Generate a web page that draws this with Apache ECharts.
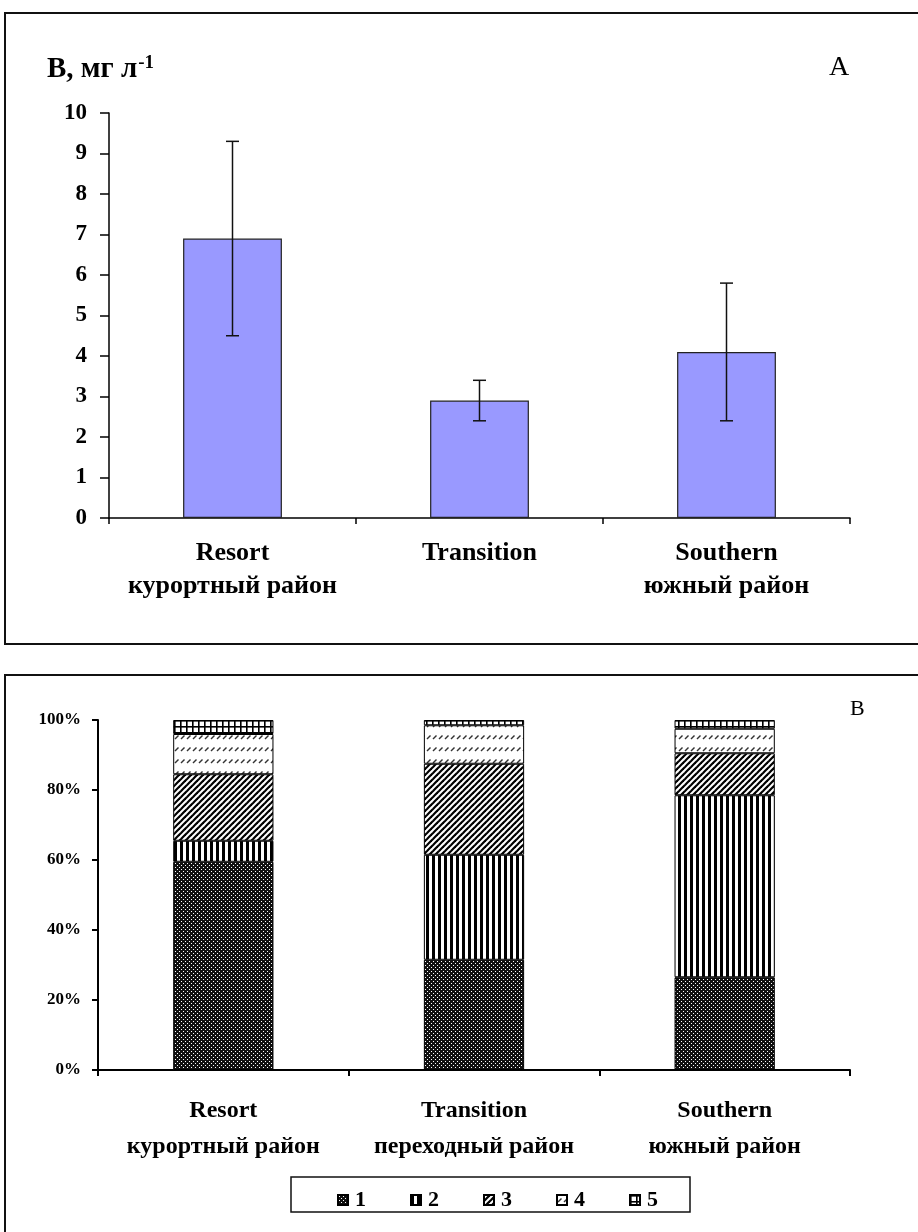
<!DOCTYPE html>
<html>
<head>
<meta charset="utf-8">
<script src="https://cdn.jsdelivr.net/npm/echarts@6/dist/echarts.min.js"></script>
<style>
  html, body { margin: 0; padding: 0; background: #fff; }
  #chart { width: 918px; height: 1232px; }
</style>
</head>
<body>
<div id="chart"></div>
<script>
// Panel A: boron concentration by region (mean ± error)
const topCategories = ['Resort\nкурортный район', 'Transition', 'Southern\nюжный район'];
const boronMean = [6.9, 2.9, 4.1];
const boronErr = [2.4, 0.5, 1.7];
const topTicks = [0, 1, 2, 3, 4, 5, 6, 7, 8, 9, 10];

// Panel B: relative share of groups 1–5 by region, %
const bottomCategories = ['Resort\nкурортный район', 'Transition\nпереходный район', 'Southern\nюжный район'];
const groupNames = ['1', '2', '3', '4', '5'];
const group1 = [59.5, 31.5, 26.5];
const group2 = [6, 30, 52];
const group3 = [19, 26, 12];
const group4 = [11.5, 11, 7];
const group5 = [4, 1.5, 2.5];
const groups = [group1, group2, group3, group4, group5];

const SERIF = '"Liberation Serif", "Times New Roman", serif';

// Hatch fills drawn into small repeating tiles
function tile(w, h, draw) {
  const c = document.createElement('canvas');
  c.width = w; c.height = h;
  const ctx = c.getContext('2d');
  ctx.fillStyle = '#fff';
  ctx.fillRect(0, 0, w, h);
  draw(ctx);
  return { image: c, repeat: 'repeat' };
}
const fills = [
  // 1: dark mesh with white dots
  tile(4, 4, ctx => {
    ctx.fillStyle = '#111';
    ctx.fillRect(0, 0, 4, 4);
    ctx.fillStyle = '#fff';
    ctx.fillRect(1, 1, 1, 1);
    ctx.fillRect(3, 3, 1, 1);
  }),
  // 2: vertical stripes
  tile(6, 2, ctx => {
    ctx.fillStyle = '#000';
    ctx.fillRect(0, 0, 3, 2);
  }),
  // 3: dense forward diagonals
  tile(6, 6, ctx => {
    ctx.strokeStyle = '#000';
    ctx.lineWidth = 2.2;
    for (let k = -1; k <= 1; k++) {
      ctx.beginPath();
      ctx.moveTo(-1 + k * 6, 7);
      ctx.lineTo(7 + k * 6, -1);
      ctx.stroke();
    }
  }),
  // 4: light dashed diagonals
  tile(6, 12, ctx => {
    ctx.strokeStyle = '#333';
    ctx.lineWidth = 1.5;
    ctx.beginPath();
    ctx.moveTo(1, 7);
    ctx.lineTo(4.5, 3.5);
    ctx.stroke();
  }),
  // 5: square grid
  tile(6, 6, ctx => {
    ctx.fillStyle = '#000';
    ctx.fillRect(0, 0, 6, 1.6);
    ctx.fillRect(0, 0, 1.6, 6);
  })
];

const chart = echarts.init(document.getElementById('chart'), null, { renderer: 'canvas' });

const stackSeries = groups.map((vals, i) => ({
  name: groupNames[i],
  type: 'bar',
  xAxisIndex: 1,
  yAxisIndex: 1,
  stack: 'share',
  barWidth: '40%',
  data: vals,
  itemStyle: { color: fills[i], borderColor: '#000', borderWidth: 1 },
  emphasis: { disabled: true }
}));

const option = {
  backgroundColor: '#fff',
  animation: false,
  textStyle: { fontFamily: SERIF, color: '#000' },
  graphic: [
    { type: 'rect', shape: { x: 5, y: 13, width: 930, height: 631 },
      style: { fill: 'none', stroke: '#111', lineWidth: 2 }, silent: true },
    { type: 'rect', shape: { x: 5, y: 675, width: 930, height: 570 },
      style: { fill: 'none', stroke: '#111', lineWidth: 2 }, silent: true },
    { type: 'rect', shape: { x: 291, y: 1177, width: 399, height: 35 },
      style: { fill: 'none', stroke: '#111', lineWidth: 1.5 }, silent: true },
    { type: 'text', left: 47, top: 54,
      style: {
        text: '{b|B, мг л}{s|-1}',
        rich: {
          b: { fontFamily: SERIF, fontWeight: 'bold', fontSize: 29, fill: '#000' },
          s: { fontFamily: SERIF, fontWeight: 'bold', fontSize: 19, fill: '#000', verticalAlign: 'top', padding: [0, 0, 12, 1] }
        }
      } },
    { type: 'text', left: 829, top: 54,
      style: { text: 'A', fontFamily: SERIF, fontSize: 28, fill: '#000' } },
    { type: 'text', left: 850, top: 698,
      style: { text: 'В', fontFamily: SERIF, fontSize: 22, fill: '#000' } }
  ],
  legend: {
    data: groupNames,
    left: 332,
    top: 1184,
    icon: 'rect',
    itemWidth: 10,
    itemHeight: 10,
    itemGap: 44,
    textStyle: { fontFamily: SERIF, fontWeight: 'bold', fontSize: 22, color: '#000', padding: [0, 0, 0, 2] },
    selectedMode: false
  },
  grid: [
    { left: 109, right: 68, top: 113, bottom: 714 },
    { left: 98, right: 68, top: 720, bottom: 162 }
  ],
  xAxis: [
    {
      type: 'category', gridIndex: 0, data: topCategories,
      axisLine: { lineStyle: { color: '#000', width: 1.5 } },
      axisTick: { show: true, interval: 0, length: 6, lineStyle: { color: '#000', width: 1.5 } },
      axisLabel: { interval: 0, hideOverlap: false, margin: 19, fontFamily: SERIF, fontWeight: 'bold', fontSize: 26, color: '#000', lineHeight: 33 }
    },
    {
      type: 'category', gridIndex: 1, data: bottomCategories,
      axisLine: { lineStyle: { color: '#000', width: 2 } },
      axisTick: { show: true, interval: 0, length: 6, lineStyle: { color: '#000', width: 2 } },
      axisLabel: { interval: 0, hideOverlap: false, margin: 23, fontFamily: SERIF, fontWeight: 'bold', fontSize: 24, color: '#000', lineHeight: 36 }
    }
  ],
  yAxis: [
    {
      type: 'value', gridIndex: 0, min: 0, max: 10, interval: 1,
      splitLine: { show: false },
      axisLine: { show: true, lineStyle: { color: '#000', width: 1.5 } },
      axisTick: { show: true, length: 9, lineStyle: { color: '#000', width: 1.5 } },
      axisLabel: {
        margin: 22, fontFamily: SERIF, fontWeight: 'bold', fontSize: 23, color: '#000',
        formatter: v => topTicks.includes(v) ? String(v) : ''
      }
    },
    {
      type: 'value', gridIndex: 1, min: 0, max: 100, interval: 20,
      splitLine: { show: false },
      axisLine: { show: true, lineStyle: { color: '#000', width: 2 } },
      axisTick: { show: true, length: 6, lineStyle: { color: '#000', width: 2 } },
      axisLabel: { margin: 17, fontFamily: SERIF, fontWeight: 'bold', fontSize: 17, color: '#000', formatter: '{value}%' }
    }
  ],
  series: [
    {
      name: 'B', type: 'bar', xAxisIndex: 0, yAxisIndex: 0,
      barWidth: '40%',
      data: boronMean,
      itemStyle: { color: '#9999FF', borderColor: '#222', borderWidth: 1.2 },
      emphasis: { disabled: true }
    },
    {
      name: 'err', type: 'custom', xAxisIndex: 0, yAxisIndex: 0,
      data: boronMean.map((m, i) => [i, m - boronErr[i], m + boronErr[i]]),
      encode: { x: 0, y: [1, 2] },
      z: 10,
      renderItem: (params, api) => {
        const lo = api.coord([api.value(0), api.value(1)]);
        const hi = api.coord([api.value(0), api.value(2)]);
        const cap = 6.5;
        const st = { stroke: '#111', lineWidth: 1.5 };
        return {
          type: 'group',
          children: [
            { type: 'line', shape: { x1: hi[0], y1: hi[1], x2: lo[0], y2: lo[1] }, style: st },
            { type: 'line', shape: { x1: hi[0] - cap, y1: hi[1], x2: hi[0] + cap, y2: hi[1] }, style: st },
            { type: 'line', shape: { x1: lo[0] - cap, y1: lo[1], x2: lo[0] + cap, y2: lo[1] }, style: st }
          ]
        };
      }
    },
    ...stackSeries
  ]
};

chart.setOption(option);
</script>
</body>
</html>
